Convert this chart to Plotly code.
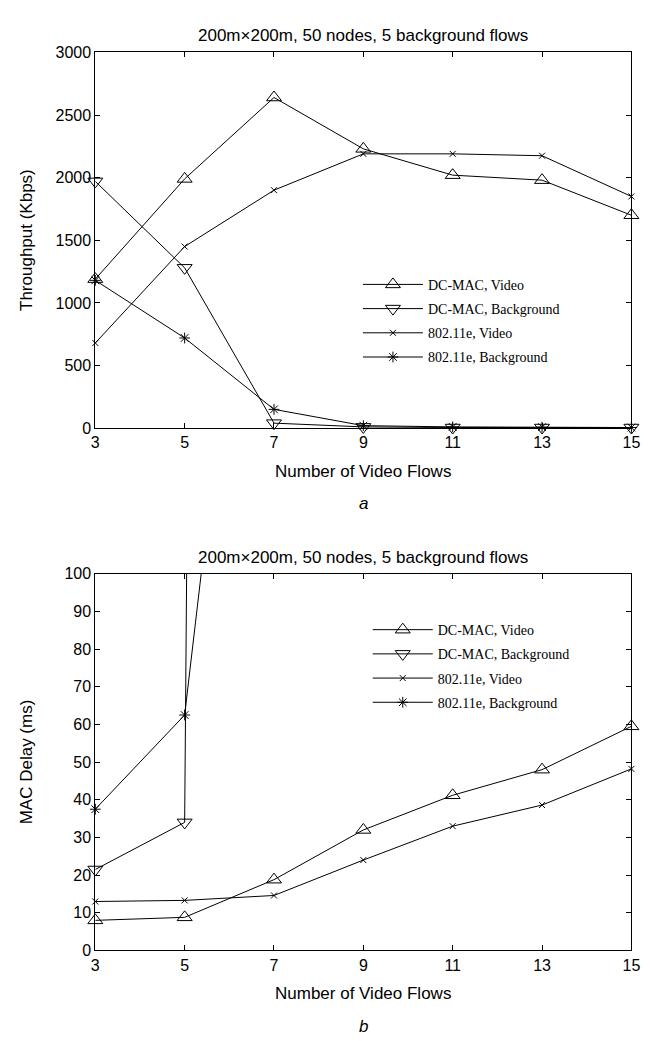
import plotly.graph_objects as go

# ---------------- data ----------------
flows = [3, 5, 7, 9, 11, 13, 15]

series_names = ["DC-MAC, Video", "DC-MAC, Background", "802.11e, Video", "802.11e, Background"]

# (a) throughput, Kbps
thr_dcmac_video = [1190, 1990, 2640, 2230, 2020, 1980, 1700]
thr_dcmac_bg = [1970, 1280, 40, 10, 5, 5, 5]
thr_80211e_video = [680, 1450, 1900, 2190, 2190, 2175, 1850]
thr_80211e_bg = [1180, 720, 150, 20, 10, 8, 5]

# (b) MAC delay, ms (background values beyond 5 flows leave the 0-100 window)
delay_dcmac_video = [8, 8.8, 18.8, 32, 41.2, 48, 59.5]
delay_dcmac_bg = [21.5, 34, 3000, None, None, None, None]
delay_80211e_video = [13, 13.3, 14.6, 24, 33, 38.6, 48.2]
delay_80211e_bg = [37.5, 62.5, 265, None, None, None, None]

x_ticks = [3, 5, 7, 9, 11, 13, 15]
thr_ticks = [0, 500, 1000, 1500, 2000, 2500, 3000]
delay_ticks = [0, 10, 20, 30, 40, 50, 60, 70, 80, 90, 100]

# ---------------- geometry ----------------
W, H = 651, 1041
def px(v):
    return v / W
def py(v):
    return 1 - v / H

x_dom = [px(85), px(632)]
top_dom = [py(419), py(37)]
bot_dom = [py(950), py(567)]

symbols = ["triangle-up-open", "triangle-down-open", "x-thin-open", "asterisk-open"]
sizes = [13, 13, 6, 9]

fig = go.Figure()

top_data = [thr_dcmac_video, thr_dcmac_bg, thr_80211e_video, thr_80211e_bg]
bot_data = [delay_dcmac_video, delay_dcmac_bg, delay_80211e_video, delay_80211e_bg]

for i, (name, ys) in enumerate(zip(series_names, top_data)):
    fig.add_trace(go.Scatter(
        x=flows, y=ys, name=name, mode="lines+markers",
        line=dict(color="black", width=1),
        marker=dict(symbol=symbols[i], size=sizes[i], color="black",
                    line=dict(color="black", width=1)),
        cliponaxis=False, xaxis="x", yaxis="y",
        legend="legend", legendgroup="a%d" % i,
    ))

for i, (name, ys) in enumerate(zip(series_names, bot_data)):
    fig.add_trace(go.Scatter(
        x=flows, y=ys, name=name, mode="lines+markers",
        line=dict(color="black", width=1),
        marker=dict(symbol=symbols[i], size=sizes[i], color="black",
                    line=dict(color="black", width=1)),
        cliponaxis=False, xaxis="x2", yaxis="y2",
        legend="legend2", legendgroup="b%d" % i,
    ))

tickfont = dict(family="Liberation Sans, Arial, sans-serif", size=16, color="black")
axis_common = dict(
    showline=True, linecolor="black", linewidth=1, mirror="ticks",
    ticks="inside", ticklen=5, tickwidth=1, tickcolor="black",
    showgrid=False, zeroline=False, tickfont=tickfont,
)

legend_font = dict(family="Liberation Serif, Times New Roman, serif", size=14, color="black")

fig.update_layout(
    width=W, height=H, autosize=False,
    margin=dict(l=0, r=0, t=0, b=0),
    paper_bgcolor="white", plot_bgcolor="white",
    xaxis=dict(domain=x_dom, anchor="y", range=[3, 15], tickvals=x_ticks, **axis_common),
    yaxis=dict(domain=top_dom, anchor="x", range=[0, 3000], tickvals=thr_ticks, **axis_common),
    xaxis2=dict(domain=x_dom, anchor="y2", range=[3, 15], tickvals=x_ticks, **axis_common),
    yaxis2=dict(domain=bot_dom, anchor="x2", range=[0, 100], tickvals=delay_ticks, **axis_common),
    legend=dict(x=px(353), y=py(257), xanchor="left", yanchor="top",
                bgcolor="rgba(0,0,0,0)", borderwidth=0, tracegroupgap=3, itemwidth=60,
                font=legend_font),
    legend2=dict(x=px(363), y=py(608), xanchor="left", yanchor="top",
                 bgcolor="rgba(0,0,0,0)", borderwidth=0, tracegroupgap=3, itemwidth=60,
                 font=legend_font),
    showlegend=True,
)

sans = "Liberation Sans, Arial, sans-serif"
title_txt = "200m\u00d7200m, 50 nodes, 5 background flows"
cx = px((85 + 632) / 2)
annots = [
    dict(text=title_txt, x=cx, y=py(20), angle=0),
    dict(text=title_txt, x=cx, y=py(550), angle=0),
    dict(text="Number of Video Flows", x=cx, y=py(463), angle=0),
    dict(text="Number of Video Flows", x=cx, y=py(994), angle=0),
    dict(text="<i>a</i>", x=cx, y=py(496), angle=0),
    dict(text="<i>b</i>", x=cx, y=py(1027), angle=0),
    dict(text="Throughput (Kbps)", x=px(15), y=py(228), angle=-90),
    dict(text="MAC Delay (ms)", x=px(15), y=py(758), angle=-90),
]
for a in annots:
    fig.add_annotation(text=a["text"], x=a["x"], y=a["y"], xref="paper", yref="paper",
                       xanchor="center", yanchor="middle", showarrow=False,
                       textangle=a["angle"],
                       font=dict(family=sans, size=17, color="black"))

fig.write_html("out.html")
